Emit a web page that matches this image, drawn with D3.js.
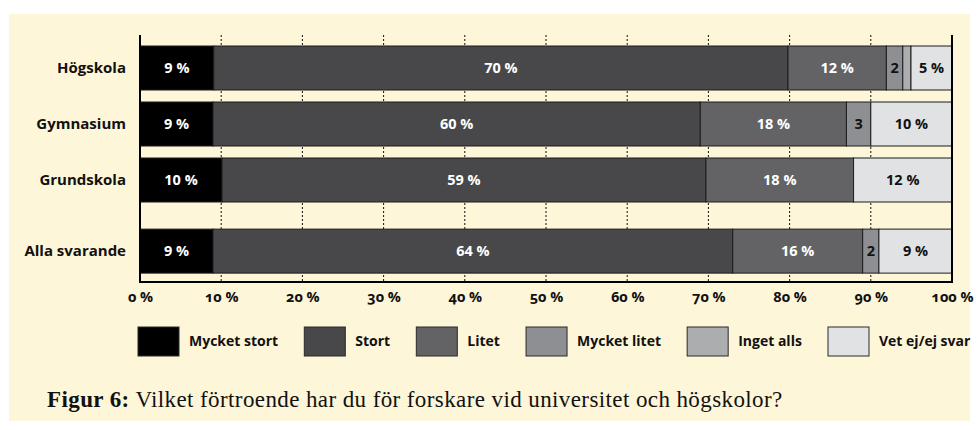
<!DOCTYPE html>
<html>
<head>
<meta charset="utf-8">
<script src="https://cdn.jsdelivr.net/npm/d3@7"></script>
<style>
  html, body { margin: 0; padding: 0; background: #fff; }
  svg { display: block; }
  .lbl { font-family: "Open Sans", sans-serif; font-weight: 700; font-size: 14.5px; }
  .row { font-size: 15px; }
  .leg { font-size: 14px; }
</style>
</head>
<body>
<svg id="chart" width="980" height="430"></svg>
<script>
// data
const groups = ["Högskola", "Gymnasium", "Grundskola", "Alla svarande"];
const answers = ["Mycket stort", "Stort", "Litet", "Mycket litet", "Inget alls", "Vet ej/ej svar"];
const mycketStort = [9, 9, 10, 9];
const stort = [70, 60, 59, 64];
const litet = [12, 18, 18, 16];
const mycketLitet = [2, 3, 0, 2];
const ingetAlls = [1, 0, 0, 0];
const vetEj = [5, 10, 12, 9];
const xTicks = [0, 10, 20, 30, 40, 50, 60, 70, 80, 90, 100];

const colors = ["#000000", "#48484a", "#636366", "#8e8f92", "#acadaf", "#e1e2e4"];
const labelColors = ["#fff", "#fff", "#fff", "#111", "#111", "#111"];

// the last row sits a little further down than the even spacing
const rowSlot = [0, 1, 2, 3.27];

const svg = d3.select("#chart");

svg.append("rect")
    .attr("x", 9).attr("y", 14)
    .attr("width", 961).attr("height", 407)
    .attr("fill", "#fef6d8");

const x = d3.scaleLinear().domain([0, 1]).range([140, 952]);
const xPct = d3.scaleLinear().domain([0, 100]).range([140, 952]);
const slot = d3.scaleLinear().domain([0, 1]).range([46, 102]);
const barH = 44;
const axisTop = 35, axisBottom = 282;

// build table for the stack
const table = groups.map((g, i) => ({
    group: g,
    [answers[0]]: mycketStort[i],
    [answers[1]]: stort[i],
    [answers[2]]: litet[i],
    [answers[3]]: mycketLitet[i],
    [answers[4]]: ingetAlls[i],
    [answers[5]]: vetEj[i]
}));

// rows don't all add up to 100, the bars still fill the width
const series = d3.stack()
    .keys(answers)
    .offset(d3.stackOffsetExpand)(table);

// dotted grid lines
svg.append("g")
    .selectAll("line")
    .data(xTicks.filter(t => t > 0 && t < 100))
    .join("line")
    .attr("x1", d => xPct(d)).attr("x2", d => xPct(d))
    .attr("y1", axisTop).attr("y2", axisBottom)
    .attr("stroke", "#111")
    .attr("stroke-width", 1)
    .attr("stroke-dasharray", "2,2");

// bars
const layers = svg.append("g")
    .selectAll("g")
    .data(series)
    .join("g")
    .attr("fill", (d, i) => colors[i]);

layers.selectAll("rect")
    .data(d => d.map((p, i) => ({ p, i })))
    .join("rect")
    .attr("x", d => x(d.p[0]))
    .attr("y", d => slot(rowSlot[d.i]))
    .attr("width", d => x(d.p[1]) - x(d.p[0]))
    .attr("height", barH)
    .attr("stroke", "#1c1c1c")
    .attr("stroke-width", 1)
    .attr("display", d => d.p[1] - d.p[0] > 0 ? null : "none");

// value labels
series.forEach((s, k) => {
    svg.append("g")
        .selectAll("text")
        .data(s.map((p, i) => ({ p, i, v: p.data[answers[k]] })).filter(d => d.v > 1))
        .join("text")
        .attr("class", "lbl")
        .attr("x", d => (x(d.p[0]) + x(d.p[1])) / 2)
        .attr("y", d => slot(rowSlot[d.i]) + barH / 2)
        .attr("dy", "0.35em")
        .attr("text-anchor", "middle")
        .attr("fill", labelColors[k])
        .text(d => d.v < 4 ? d.v : d.v + " %");
});

// row labels
svg.append("g")
    .selectAll("text")
    .data(groups)
    .join("text")
    .attr("class", "lbl row")
    .attr("x", 126)
    .attr("y", (d, i) => slot(rowSlot[i]) + barH / 2)
    .attr("dy", "0.35em")
    .attr("text-anchor", "end")
    .attr("fill", "#111")
    .text(d => d);

// axis frame: left, right, bottom
const frame = svg.append("g").attr("stroke", "#000").attr("stroke-width", 2);
frame.append("line").attr("x1", xPct(0)).attr("x2", xPct(0)).attr("y1", axisTop).attr("y2", axisBottom + 1);
frame.append("line").attr("x1", xPct(100)).attr("x2", xPct(100)).attr("y1", axisTop).attr("y2", axisBottom + 1);
frame.append("line").attr("x1", xPct(0)).attr("x2", xPct(100)).attr("y1", axisBottom).attr("y2", axisBottom);

// x tick labels
const xAxis = svg.append("g")
    .attr("transform", `translate(0,${axisBottom})`)
    .call(d3.axisBottom(xPct).tickValues(xTicks).tickSize(0).tickPadding(10).tickFormat(d => d + " %"));
xAxis.select(".domain").remove();
xAxis.selectAll("text")
    .attr("class", "lbl")
    .attr("fill", "#111")
    .style("font-size", "14.5px")
    .style("font-variant-numeric", "oldstyle-nums");

// legend: items flow left to right, spread between the two end boxes
const boxW = 41, boxH = 29, textGap = 10;
const legendLeft = 138, lastBox = 828;
const legend = svg.append("g")
    .selectAll("g")
    .data(answers)
    .join("g");

legend.append("rect")
    .attr("width", boxW).attr("height", boxH)
    .attr("fill", (d, i) => colors[i])
    .attr("stroke", "#2a2a2a")
    .attr("stroke-width", 1);

legend.append("text")
    .attr("class", "lbl leg")
    .attr("x", boxW + textGap).attr("y", boxH / 2)
    .attr("dy", "0.35em")
    .attr("fill", "#111")
    .text(d => d);

const textW = [];
legend.select("text").each(function() { textW.push(this.getComputedTextLength()); });
const used = d3.sum(textW.slice(0, -1), w => w + boxW + textGap);
const spacing = (lastBox - legendLeft - used) / (answers.length - 1);
let cursor = legendLeft;
legend.attr("transform", (d, i) => {
    const pos = cursor;
    cursor += boxW + textGap + textW[i] + spacing;
    return `translate(${pos},327)`;
});

// caption
const caption = svg.append("text")
    .attr("x", 47).attr("y", 407)
    .attr("font-family", "'Liberation Serif', serif")
    .attr("font-size", 23)
    .attr("letter-spacing", 0.4)
    .attr("fill", "#111");
caption.append("tspan").attr("font-weight", 700).text("Figur 6:");
caption.append("tspan").text(" Vilket förtroende har du för forskare vid universitet och högskolor?");
</script>
</body>
</html>
